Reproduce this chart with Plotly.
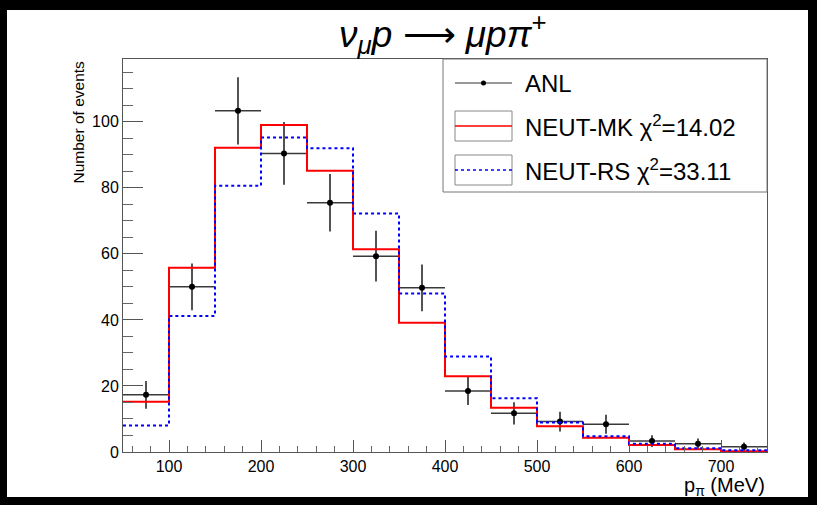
import plotly.graph_objects as go

# ---------------- data ----------------
bin_edges = [50, 100, 150, 200, 250, 300, 350, 400, 450, 500, 550, 600, 650, 700, 750]
bin_centers = [75, 125, 175, 225, 275, 325, 375, 425, 475, 525, 575, 625, 675, 725]
bin_halfwidth = [25, 25, 25, 25, 25, 25, 25, 25, 25, 25, 25, 25, 25, 25]
anl_y = [17.3, 50.0, 103.3, 90.4, 75.5, 59.3, 49.7, 18.5, 11.7, 9.2, 8.4, 3.3, 2.5, 1.6]
anl_err = [4.2, 7.1, 10.2, 9.5, 8.7, 7.7, 7.1, 4.3, 3.4, 3.0, 2.9, 1.8, 1.6, 1.3]
neut_mk = [15.2, 55.8, 92.1, 99.0, 85.2, 61.4, 39.1, 22.9, 13.4, 7.8, 4.3, 2.1, 0.8, 0.2]
neut_rs = [8.0, 41.2, 80.6, 95.2, 92.0, 72.2, 48.0, 28.9, 16.3, 8.9, 4.8, 2.5, 1.1, 0.5]
x_ticks = [100, 200, 300, 400, 500, 600, 700]
y_ticks = [0, 20, 40, 60, 80, 100]
legend_labels = ["ANL", "NEUT-MK χ<sup>2</sup>=14.02", "NEUT-RS χ<sup>2</sup>=33.11"]

FONT = "Liberation Sans, Arial, Helvetica, sans-serif"
W, H = 817, 505
L, R, T, B = 123, 50, 59, 53
PW, PH = W - L - R, H - T - B


def px(x):
    return (x - L) / PW


def py(y):
    return (H - B - y) / PH


fig = go.Figure()

# data points
fig.add_trace(go.Scatter(
    x=bin_centers, y=anl_y, mode="markers",
    marker=dict(color="black", size=6),
    error_x=dict(type="data", array=bin_halfwidth, color="#3a3a3a", thickness=1.5, width=0),
    error_y=dict(type="data", array=anl_err, color="#1a1a1a", thickness=1.5, width=0),
    showlegend=False, name=legend_labels[0]))

# histograms
fig.add_trace(go.Scatter(
    x=bin_edges, y=neut_mk + [neut_mk[-1]], mode="lines", line_shape="hv",
    line=dict(color="#ff0000", width=2), showlegend=False, name="NEUT-MK"))
fig.add_trace(go.Scatter(
    x=bin_edges, y=neut_rs + [neut_rs[-1]], mode="lines", line_shape="hv",
    line=dict(color="#0000ff", width=2, dash="dot"), showlegend=False, name="NEUT-RS"))

shapes = []
# white canvas on black border
shapes.append(dict(type="rect", xref="paper", yref="paper", x0=px(7), x1=px(808),
                   y0=py(497), y1=py(10), fillcolor="white", line=dict(width=0), layer="below"))

# legend box
shapes.append(dict(type="rect", xref="paper", yref="paper", x0=px(443), x1=px(767),
                   y0=py(192), y1=py(59), fillcolor="white", line=dict(color="#777", width=1)))
# ANL symbol
shapes.append(dict(type="line", xref="paper", yref="paper", x0=px(455), x1=px(512),
                   y0=py(83), y1=py(83), line=dict(color="#333", width=1.2)))
shapes.append(dict(type="circle", xref="paper", yref="paper", x0=px(481), x1=px(486),
                   y0=py(85.5), y1=py(80.5), fillcolor="black", line=dict(color="black", width=0)))
# MK symbol
shapes.append(dict(type="rect", xref="paper", yref="paper", x0=px(455), x1=px(512),
                   y0=py(141), y1=py(111), line=dict(color="#888", width=1)))
shapes.append(dict(type="line", xref="paper", yref="paper", x0=px(455), x1=px(512),
                   y0=py(126), y1=py(126), line=dict(color="#ff0000", width=1.5)))
# RS symbol
shapes.append(dict(type="rect", xref="paper", yref="paper", x0=px(455), x1=px(512),
                   y0=py(185), y1=py(155), line=dict(color="#888", width=1)))
shapes.append(dict(type="line", xref="paper", yref="paper", x0=px(455), x1=px(512),
                   y0=py(170), y1=py(170), line=dict(color="#0000ff", width=1.5, dash="dot")))

annotations = []
for lab, yy in zip(legend_labels, [83, 126, 170]):
    annotations.append(dict(text=lab, xref="paper", yref="paper", x=px(523), y=py(yy),
                            xanchor="left", yanchor="middle", showarrow=False,
                            font=dict(family=FONT, size=24, color="black")))
# title
annotations.append(dict(
    text=("<i>ν</i><sub><i>μ</i></sub><i>p</i> ⟶ "
          "<i>μpπ</i><sup>+</sup>"),
    xref="paper", yref="paper", x=px(443), y=py(34),
    xanchor="center", yanchor="middle", showarrow=False,
    font=dict(family=FONT, size=37, color="black")))
# axis titles
annotations.append(dict(text="p<sub>π</sub> (MeV)", xref="paper", yref="paper",
                        x=1, y=py(486), xanchor="right", yanchor="middle", showarrow=False,
                        font=dict(family=FONT, size=20, color="black")))
annotations.append(dict(text="Number of events", xref="paper", yref="paper",
                        x=px(78), y=1, xanchor="center", yanchor="top", textangle=-90,
                        showarrow=False, font=dict(family=FONT, size=15.5, color="black")))

axis_common = dict(showline=True, linecolor="#555", linewidth=1, mirror=True,
                   ticks="inside", tickcolor="#555", tickwidth=1, showgrid=False,
                   zeroline=False, tickfont=dict(family=FONT, size=16, color="black"))

fig.update_layout(
    width=W, height=H,
    margin=dict(l=L, r=R, t=T, b=B, pad=0),
    paper_bgcolor="black", plot_bgcolor="white",
    xaxis=dict(range=[50, 750], tickvals=x_ticks, ticklen=12,
               minor=dict(dtick=20, tick0=0, ticks="inside", ticklen=6, tickcolor="#666", showgrid=False),
               **axis_common),
    yaxis=dict(range=[0, 119], tickvals=y_ticks, ticklen=20,
               minor=dict(dtick=5, tick0=0, ticks="inside", ticklen=10, tickcolor="#666", showgrid=False),
               **axis_common),
    shapes=shapes, annotations=annotations, showlegend=False,
)

fig.write_html("out.html")
